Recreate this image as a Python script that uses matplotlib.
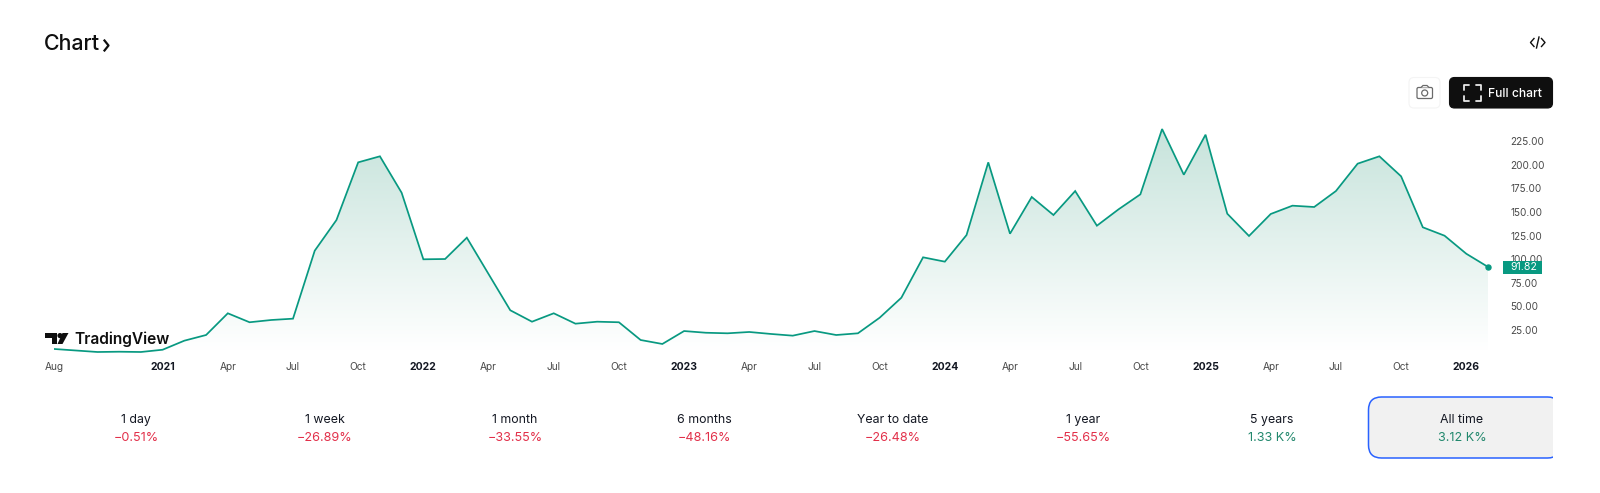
import matplotlib
matplotlib.use("Agg")
import matplotlib.pyplot as plt
import numpy as np
from matplotlib.colors import LinearSegmentedColormap
from matplotlib.patches import Circle, FancyBboxPatch, Polygon, Rectangle

plt.rcParams['font.family'] = ['Inter', 'DejaVu Sans']

# monthly closes, Aug 2020 .. Feb 2026
prices = [4.9, 3.3, 1.7, 2.0, 1.7, 4.1, 13.7, 19.7, 42.7, 33.2, 35.6, 37.0,
          109.0, 141.5, 202.6, 209.0, 170.4, 99.9, 100.2, 122.8, 84.3, 45.9, 33.8, 42.7,
          31.7, 33.8, 33.2, 14.4, 10.2, 23.9, 22.1, 21.5, 22.9, 20.8, 19.0, 23.9,
          19.7, 21.5, 38.0, 59.2, 102.0, 97.4, 125.6, 202.6, 127.0, 165.9, 146.8, 172.2,
          135.5, 152.9, 168.7, 237.9, 189.5, 231.9, 148.2, 124.6, 147.9, 156.7, 155.3, 172.2,
          201.2, 209.0, 187.8, 133.8, 124.9, 105.8, 91.82]
tick_months = [0, 5, 8, 11, 14, 17, 20, 23, 26, 29, 32, 35, 38, 41, 44, 47, 50, 53, 56, 59, 62, 65]
tick_labels = ['Aug', '2021', 'Apr', 'Jul', 'Oct', '2022', 'Apr', 'Jul', 'Oct', '2023', 'Apr', 'Jul',
               'Oct', '2024', 'Apr', 'Jul', 'Oct', '2025', 'Apr', 'Jul', 'Oct', '2026']
y_ticks = [25, 50, 75, 100, 125, 150, 175, 200, 225]
last_price = '91.82'

periods = ['1 day', '1 week', '1 month', '6 months', 'Year to date', '1 year', '5 years', 'All time']
changes = ['−0.51%', '−26.89%', '−33.55%', '−48.16%', '−26.48%', '−55.65%', '1.33 K%', '3.12 K%']
change_up = [False, False, False, False, False, False, True, True]

W, H = 1600, 493
GREEN = '#089981'
INK = '#0f0f0f'
fig = plt.figure(figsize=(W / 100, H / 100), dpi=100, facecolor='white')

# chart axes: month 0 at x=54px, month 66 at x=1488px, price 0 at y=353.6px, 250 at y=117.6px
ax = fig.add_axes([54 / W, 1 - 353.6 / H, (1488 - 54) / W, 236 / H])
months = np.arange(len(prices))
ax.set_xlim(0, 66)
ax.set_ylim(0, 250)
for s in ax.spines.values():
    s.set_visible(False)
ax.patch.set_alpha(0)

# gradient under the line
cmap = LinearSegmentedColormap.from_list('fade', ['#ffffff', '#c6e3db'])
grad = np.linspace(1, 0, 256).reshape(-1, 1)
img = ax.imshow(grad, extent=[0, 66, 4, 240], aspect='auto', cmap=cmap, vmin=0, vmax=1, zorder=1)
poly = ax.fill_between(months, prices, 0, color='none')
img.set_clip_path(poly.get_paths()[0], transform=ax.transData)
ax.set_xlim(0, 66)
ax.set_ylim(0, 250)

ax.plot(months, prices, color=GREEN, lw=1.25, zorder=3, solid_joinstyle='miter')
ax.plot(months[-1], prices[-1], 'o', color=GREEN, ms=3.6, zorder=4, clip_on=False)

ax.set_xticks(tick_months)
ax.set_xticklabels(tick_labels, fontsize=7.3, color='#4a4a4a')
for lab in ax.get_xticklabels():
    if lab.get_text().isdigit():
        lab.set_fontweight('bold')
        lab.set_fontsize(7.5)
        lab.set_color('#131722')
ax.tick_params(axis='x', length=0, pad=6)
ax.yaxis.tick_right()
ax.set_yticks(y_ticks)
ax.set_yticklabels([f'{v:.2f}' for v in y_ticks], fontsize=7.2, color='#4a4a4a')
ax.tick_params(axis='y', length=0, pad=16)

# page furniture, in pixel coordinates
ui = fig.add_axes([0, 0, 1, 1], zorder=5)
ui.set_xlim(0, W)
ui.set_ylim(H, 0)
ui.axis('off')

ui.text(44, 44, 'Chart', fontsize=15.4, color=INK, va='center', ha='left', fontweight='medium')
ui.plot([104.5, 108.5, 104.5], [40.5, 45.5, 50.5], color=INK, lw=1.6)

# embed icon
ui.plot([1534, 1530.5, 1534], [38.5, 42.5, 46.5], color=INK, lw=1)
ui.plot([1541.5, 1545, 1541.5], [38.5, 42.5, 46.5], color=INK, lw=1)
ui.plot([1536.5, 1539], [48, 37], color=INK, lw=1)

# snapshot button
ui.add_patch(FancyBboxPatch((1409, 77.5), 31, 30.5, boxstyle='round,pad=0,rounding_size=5',
                            fc='white', ec='#f4f4f4', lw=0.8))
ui.add_patch(FancyBboxPatch((1417, 87.5), 15.5, 11, boxstyle='round,pad=0,rounding_size=1.5',
                            fc='white', ec='#6a6a6a', lw=0.9))
ui.add_patch(Polygon([[1421, 87.5], [1423, 85.5], [1427, 85.5], [1429, 87.5]], closed=False, fc='white', ec='#6a6a6a', lw=0.9))
ui.add_patch(Circle((1424.7, 93), 3, fc='white', ec='#6a6a6a', lw=0.9))

# full chart button
ui.add_patch(FancyBboxPatch((1449.5, 77.5), 103, 30.5, boxstyle='round,pad=0,rounding_size=5',
                            fc=INK, ec=INK, lw=0.8))
for sx, sy in [(1, 1), (-1, 1), (1, -1), (-1, -1)]:
    cx, cy = 1472.5 - sx * 8.5, 92.5 - sy * 8
    ui.plot([cx, cx, cx + sx * 5], [cy + sy * 5, cy, cy], color='#e8e8e8', lw=1.3, solid_capstyle='round')
ui.text(1487.5, 94, 'Full chart', fontsize=8.7, color='white', va='center', ha='left', fontweight='medium')

# TradingView logo
ui.add_patch(Polygon([[45, 333], [57, 333], [57, 344], [52, 344], [52, 338], [45, 338]], fc=INK, ec='none'))
ui.add_patch(Circle((60, 335.6), 2.6, fc=INK, ec='none'))
ui.add_patch(Polygon([[62.5, 333], [68.5, 333], [62.5, 344], [57.5, 344]], fc=INK, ec='none'))
ui.text(74.5, 339.5, 'TradingView', fontsize=11.2, color=INK, va='center', ha='left', fontweight='semibold')

# last price tag
ui.add_patch(Rectangle((1503, 260.7), 38.7, 13, fc=GREEN, ec='none'))
ui.text(1510.5, 267.4, last_price, fontsize=7.6, color='white', va='center', ha='left')

# period buttons
ui.add_patch(FancyBboxPatch((1368.5, 397), 192, 61, boxstyle='round,pad=0,rounding_size=13',
                            fc='#f1f1f1', ec='#2962ff', lw=1.1))
ui.add_patch(Rectangle((1553, 390), 12, 75, fc='white', ec='none'))

centers = [136, 325, 515, 704, 893, 1083, 1272, 1462]
for cx, name, chg, up in zip(centers, periods, changes, change_up):
    ui.text(cx, 419.7, name, fontsize=8.9, color='#131722', va='center', ha='center')
    ui.text(cx, 437.7, chg, fontsize=9.1, color='#22886d' if up else '#e2304a', va='center', ha='center')

fig.savefig('out.png', dpi=100)
